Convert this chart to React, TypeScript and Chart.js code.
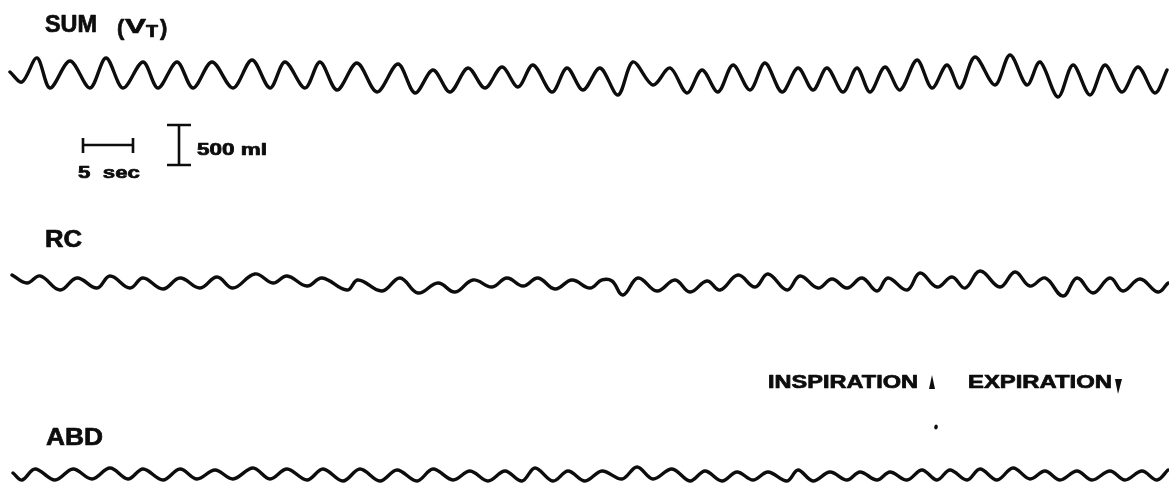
import React, { useEffect, useRef } from "react";
import { Chart, registerables } from "chart.js";

Chart.register(...registerables);

// Time (s) and volume (ml) samples
const SUM_T = [1.0, 2.2, 3.7, 5.0, 7.0, 9.0, 10.6, 12.3, 14.3, 15.8, 17.7, 19.3, 21.2, 23.3, 25.2, 27.0, 28.5, 30.5, 32.0, 33.7, 35.7, 37.7, 39.8, 41.5, 43.3, 45.0, 46.8, 48.5, 50.2, 51.8, 53.3, 55.2, 56.7, 58.3, 60.0, 61.8, 63.3, 65.3, 67.0, 68.7, 70.2, 71.8, 73.3, 75.0, 76.5, 78.2, 79.8, 81.3, 82.7, 84.3, 85.7, 87.0, 88.5, 90.0, 91.7, 93.2, 94.7, 96.0, 97.5, 99.5, 101.0, 102.7, 104.0, 105.8, 107.3, 109.0, 110.5, 112.2, 113.8, 115.5, 116.7];
const SUM_ML = [38, -88, 213, -163, 175, -163, 213, -163, 163, -163, 163, -163, 163, -163, 188, -163, 163, -163, 163, -188, 150, -213, 138, -225, 63, -213, 88, -163, 100, -150, 125, -213, 88, -188, 88, -250, 163, -125, 88, -225, 63, -213, 125, -188, 150, -213, 88, -188, 88, -213, 88, -213, 100, -188, 188, -163, 125, -163, 225, -125, 250, -125, 163, -275, 125, -250, 125, -213, 100, -225, 63];

const RC_T = [1.2, 2.7, 4.0, 6.0, 7.7, 9.7, 11.0, 13.0, 14.3, 16.3, 18.0, 20.0, 21.7, 23.3, 25.5, 27.3, 28.7, 30.7, 32.2, 34.7, 35.8, 38.2, 40.0, 41.8, 43.8, 45.5, 47.3, 49.2, 50.7, 52.3, 53.8, 55.5, 57.2, 59.0, 60.2, 61.2, 62.3, 63.8, 65.7, 67.5, 69.0, 70.7, 72.0, 73.8, 75.5, 76.8, 78.7, 80.0, 81.8, 83.2, 84.7, 86.2, 87.7, 88.8, 90.7, 92.0, 93.7, 95.2, 96.5, 98.0, 100.0, 101.5, 103.0, 104.5, 106.3, 107.7, 109.3, 111.0, 112.3, 114.0, 115.8, 116.8];
const RC_ML = [100, 0, 88, -88, 63, -63, 88, -63, 63, -75, 63, -63, 75, -63, 113, 0, 88, -38, 63, -88, 38, -100, 63, -125, 0, -113, 38, -50, 63, -38, 63, -75, 38, -63, 38, 25, -150, 63, -100, 38, -113, 25, -88, 100, -50, 113, -88, 88, -63, 50, -63, 63, -100, 63, -88, 125, -50, 75, -63, 150, -50, 138, -38, 63, -163, 63, -125, 63, -100, 50, -113, 0];

const ABD_T = [1.3, 2.2, 3.5, 5.5, 7.3, 9.2, 11.0, 12.8, 14.3, 16.3, 18.0, 19.7, 21.5, 23.3, 25.3, 27.0, 28.7, 30.7, 32.3, 34.3, 36.0, 38.0, 39.7, 41.7, 43.3, 45.3, 47.0, 48.8, 50.5, 52.2, 53.5, 55.3, 56.8, 58.5, 60.2, 62.2, 63.7, 65.3, 67.2, 69.0, 70.5, 72.2, 73.7, 75.3, 76.8, 78.7, 79.8, 81.3, 83.0, 84.7, 86.0, 87.7, 89.0, 90.7, 92.2, 93.7, 95.0, 96.7, 98.0, 99.7, 101.3, 103.0, 104.5, 106.0, 107.7, 109.2, 111.0, 112.5, 114.2, 115.7, 116.8];
const ABD_ML = [25, -63, 75, -63, 75, -50, 88, -50, 75, -63, 75, -50, 63, -50, 88, -50, 75, -63, 75, -75, 75, -75, 63, -75, 75, -63, 50, -75, 50, -75, 88, -75, 50, -75, 50, -50, 100, -50, 75, -75, 50, -75, 38, -63, 38, -75, 63, -75, 38, -63, 38, -63, 38, -63, 63, -63, 63, -63, 75, -63, 88, -50, 50, -63, 50, -63, 50, -63, 50, -63, 63];

const TRACE_LABELS = ["SUM", "RC", "ABD"];
const SCALE_SEC = 5;
const SCALE_ML = 500;
const SCALE_SEC_LABEL = "5  sec";
const SCALE_ML_LABEL = "500 ml";
const PHASE_LABELS = ["INSPIRATION", "EXPIRATION"];

const INK = "#0d0d0d";
const FONT = '"Liberation Sans", Arial, Helvetica, sans-serif';

function pts(t: number[], v: number[]) {
  return t.map((x, i) => ({ x, y: v[i] }));
}

const overlay = {
  id: "overlay",
  afterDraw(chart: any) {
    const ctx: CanvasRenderingContext2D = chart.ctx;
    const xs = chart.scales.x;
    const ys = chart.scales.ySum;
    ctx.save();
    ctx.fillStyle = INK;
    ctx.strokeStyle = INK;
    ctx.textBaseline = "alphabetic";

    const fitText = (txt: string, x: number, y: number, size: number, w?: number) => {
      ctx.font = `bold ${size}px ${FONT}`;
      ctx.save();
      ctx.translate(x, y);
      if (w) {
        const m = ctx.measureText(txt).width;
        ctx.scale(w / m, 1);
      }
      ctx.lineWidth = 0.7;
      ctx.lineJoin = "round";
      ctx.fillText(txt, 0, 0);
      ctx.strokeText(txt, 0, 0);
      ctx.restore();
    };

    // Trace labels
    fitText(TRACE_LABELS[0], 45, 32, 23, 52);
    fitText("(", 117, 35, 22);
    fitText("V", 125, 33, 20, 21);
    fitText("T", 146, 37, 16, 12);
    fitText(")", 160, 35, 22);
    fitText(TRACE_LABELS[1], 45, 247, 23, 37);
    fitText(TRACE_LABELS[2], 46, 445, 23, 57);

    // Time scale bar
    const secPx = xs.getPixelForValue(SCALE_SEC) - xs.getPixelForValue(0);
    const bx = 83, by = 145;
    ctx.lineWidth = 2.6;
    ctx.beginPath();
    ctx.moveTo(bx, by);
    ctx.lineTo(bx + secPx, by);
    ctx.moveTo(bx, by - 7);
    ctx.lineTo(bx, by + 8);
    ctx.moveTo(bx + secPx, by - 7);
    ctx.lineTo(bx + secPx, by + 8);
    ctx.stroke();
    fitText(SCALE_SEC_LABEL, 78, 178, 17, 62);

    // Volume scale bar
    const mlPx = ys.getPixelForValue(0) - ys.getPixelForValue(SCALE_ML);
    const vx = 179, vy = 125;
    ctx.lineWidth = 2.6;
    ctx.beginPath();
    ctx.moveTo(vx, vy);
    ctx.lineTo(vx, vy + mlPx);
    ctx.moveTo(vx - 12, vy);
    ctx.lineTo(vx + 12, vy);
    ctx.moveTo(vx - 12, vy + mlPx);
    ctx.lineTo(vx + 12, vy + mlPx);
    ctx.stroke();
    fitText(SCALE_ML_LABEL, 197, 155, 16, 70);

    // Phase legend
    fitText(PHASE_LABELS[0], 768, 388, 18, 150);
    fitText(PHASE_LABELS[1], 968, 388, 18, 144);
    ctx.beginPath();
    ctx.moveTo(932, 375);
    ctx.lineTo(929, 389);
    ctx.lineTo(935, 389);
    ctx.closePath();
    ctx.fill();
    ctx.beginPath();
    ctx.moveTo(1115, 379);
    ctx.lineTo(1122, 379);
    ctx.lineTo(1118, 394);
    ctx.closePath();
    ctx.fill();
    ctx.beginPath();
    ctx.ellipse(936, 427, 1.8, 2.4, 0.3, 0, Math.PI * 2);
    ctx.fill();

    ctx.restore();
  },
};

export default function App() {
  const ref = useRef<HTMLCanvasElement | null>(null);
  useEffect(() => {
    if (!ref.current) return;
    const line = (data: any, axis: string, tension: number) => ({
      data,
      yAxisID: axis,
      borderColor: INK,
      borderWidth: 3.4,
      pointRadius: 0,
      tension,
      fill: false,
      borderCapStyle: "round" as const,
      borderJoinStyle: "round" as const,
    });
    const chart = new Chart(ref.current, {
      type: "line",
      data: {
        datasets: [
          line(pts(SUM_T, SUM_ML), "ySum", 0.32),
          line(pts(RC_T, RC_ML), "yRc", 0.4),
          line(pts(ABD_T, ABD_ML), "yAbd", 0.35),
        ],
      },
      options: {
        animation: false,
        responsive: false,
        devicePixelRatio: 1,
        layout: { padding: 0 },
        plugins: { legend: { display: false }, tooltip: { enabled: false } },
        scales: {
          x: { type: "linear", min: 0, max: 116.9, display: false },
          ySum: { type: "linear", min: -5100, max: 937.5, display: false },
          yRc: { type: "linear", min: -2500, max: 3537.5, display: false },
          yAbd: { type: "linear", min: -100, max: 5937.5, display: false },
        },
      },
      plugins: [overlay],
    });
    return () => chart.destroy();
  }, []);
  return (
    <div style={{ position: "absolute", left: 0, top: 0, width: 1169, height: 483, background: "#fff" }}>
      <canvas ref={ref} width={1169} height={483} />
    </div>
  );
}
